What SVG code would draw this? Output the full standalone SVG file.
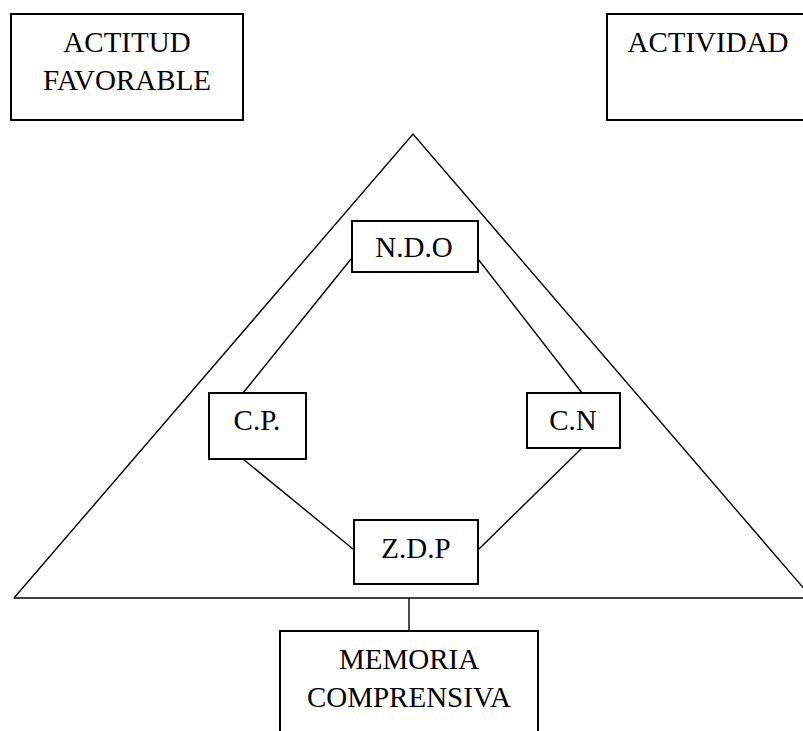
<svg xmlns="http://www.w3.org/2000/svg" width="803" height="731" viewBox="0 0 803 731">
<style>
.box{fill:#fff;stroke:#000;stroke-width:2}
.ln{fill:none;stroke:#000;stroke-width:1.4}
text{font-family:"Liberation Serif","Times New Roman",serif;font-size:29px;fill:#000;text-anchor:middle}
</style>
<rect width="803" height="731" fill="#fff"/>
<g id="triangle">
<polyline class="ln" points="14,598 413,134 812,598"/>
<line class="ln" x1="14" y1="598" x2="803" y2="598"/>
</g>
<g id="connectors">
<line class="ln" x1="351" y1="259" x2="243" y2="393"/>
<line class="ln" x1="478" y1="259" x2="582" y2="393"/>
<line class="ln" x1="243" y1="459" x2="353" y2="549"/>
<line class="ln" x1="582" y1="448" x2="479" y2="549"/>
<line class="ln" x1="409" y1="598" x2="409" y2="631"/>
</g>
<g id="actitud">
<rect class="box" x="11" y="14" width="232" height="106"/>
<text x="127" y="52">ACTITUD</text>
<text x="127" y="90">FAVORABLE</text>
</g>
<g id="actividad">
<rect class="box" x="607" y="14" width="210" height="106"/>
<text x="708" y="52">ACTIVIDAD</text>
</g>
<g id="ndo">
<rect class="box" x="352" y="221" width="126" height="51"/>
<text x="414" y="257">N.D.O</text>
</g>
<g id="cp">
<rect class="box" x="209" y="393" width="97" height="66"/>
<text x="257" y="430">C.P.</text>
</g>
<g id="cn">
<rect class="box" x="527" y="393" width="93" height="55"/>
<text x="573" y="430">C.N</text>
</g>
<g id="zdp">
<rect class="box" x="354" y="520" width="124" height="64"/>
<text x="416" y="558">Z.D.P</text>
</g>
<g id="memoria">
<rect class="box" x="280" y="631" width="258" height="110"/>
<text x="409" y="669">MEMORIA</text>
<text x="409" y="707">COMPRENSIVA</text>
</g>
</svg>
